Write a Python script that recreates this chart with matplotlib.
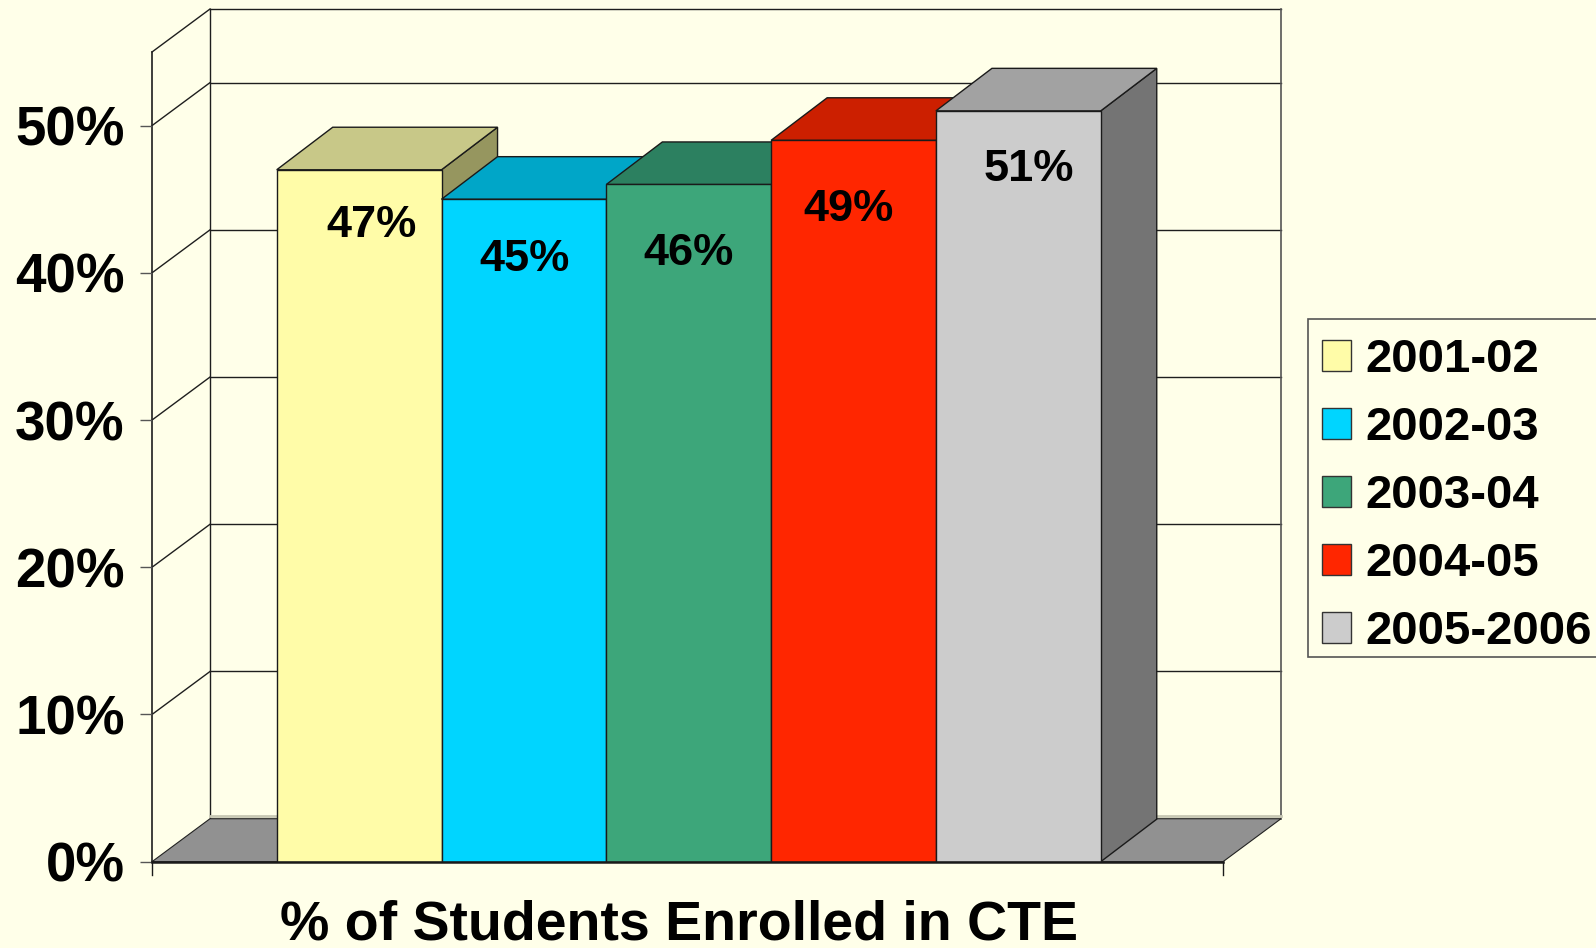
import matplotlib
matplotlib.use("Agg")
import matplotlib.pyplot as plt
from matplotlib.patches import Polygon, Patch, Rectangle

# ---- data ----
series = ["2001-02", "2002-03", "2003-04", "2004-05", "2005-2006"]
values = [47, 45, 46, 49, 51]
value_labels = ["47%", "45%", "46%", "49%", "51%"]
yticks = [0, 10, 20, 30, 40, 50]
ytick_labels = ["0%", "10%", "20%", "30%", "40%", "50%"]
xlabel = "% of Students Enrolled in CTE"

# ---- style ----
BG = "#FFFFE9"
front_cols = ["#FFFCA8", "#00D5FF", "#3DA67A", "#FF2600", "#CCCCCC"]
top_cols = ["#C8C888", "#00A6C8", "#2C8060", "#CC1F00", "#A2A2A2"]
side_cols = ["#96965F", "#0080A0", "#1F5E46", "#991700", "#747474"]
# label placement offsets in pixels (horizontal shift, distance below bar top)
label_dx_px = [12, 1, 0, -5, 10]
label_dy_px = [56, 60, 69, 69, 59]
FONT = "Liberation Sans"

W, H = 1596, 948
fig = plt.figure(figsize=(W / 100, H / 100), dpi=100, facecolor=BG)
ax = fig.add_axes([152 / W, 1 - 861.7 / H, 1071 / W, (861.7 - 52) / H])
ax.set_facecolor("none")

XL, XR = -1.2567, 5.242
YMAX = 55
ax.set_xlim(XL, XR)
ax.set_ylim(0, YMAX)
for s in ax.spines.values():
    s.set_visible(False)

# depth offsets (data units)
DX, DY = 0.352, 2.92      # walls / floor
BDX, BDY = 0.34, 2.89     # bars

LC = "#1e1e1e"
# back wall outline and gridlines
levels = yticks[1:] + [YMAX]
for v in levels:
    ax.plot([XL + DX, XR + DX], [v + DY, v + DY], color=LC, lw=1, zorder=1, clip_on=False)
ax.plot([XL + DX, XL + DX], [DY, YMAX + DY], color=LC, lw=1, zorder=1, clip_on=False)
ax.plot([XR + DX, XR + DX], [DY, YMAX + DY], color="#555555", lw=1.2, zorder=1, clip_on=False)
# left side wall
for v in levels:
    ax.plot([XL, XL + DX], [v, v + DY], color=LC, lw=1, zorder=1, clip_on=False)
ax.plot([XL, XL], [0, YMAX], color=LC, lw=1.2, zorder=1, clip_on=False)

# floor
floor = Polygon([(XL, 0), (XR, 0), (XR + DX, DY), (XL + DX, DY)], closed=True,
                facecolor="#919191", edgecolor="#222222", lw=0.8, zorder=2, clip_on=False)
ax.add_patch(floor)
ax.plot([XL + DX, XR + DX], [DY + 0.18, DY + 0.18], color="#C8C8B4", lw=2, zorder=2, clip_on=False)

# bars
z = 3
for i, (v, fc, tc, sc) in enumerate(zip(values, front_cols, top_cols, side_cols)):
    x0, x1 = i - 0.5, i + 0.5
    side = Polygon([(x1, 0), (x1, v), (x1 + BDX, v + BDY), (x1 + BDX, BDY)], closed=True,
                   facecolor=sc, edgecolor="#1a1a1a", lw=1, zorder=z, clip_on=False)
    ax.add_patch(side)
    top = Polygon([(x0, v), (x1, v), (x1 + BDX, v + BDY), (x0 + BDX, v + BDY)], closed=True,
                  facecolor=tc, edgecolor="#1a1a1a", lw=1, zorder=z + 0.1, clip_on=False)
    ax.add_patch(top)
    ax.bar([i], [v], width=1.0, color=fc, edgecolor="#1a1a1a", lw=1, zorder=z + 0.2)
    ax.annotate(value_labels[i], xy=(i, v),
                xytext=(label_dx_px[i] * 0.72, -label_dy_px[i] * 0.72),
                textcoords="offset points", ha="center", va="center",
                fontsize=32.5, fontweight="bold", family=FONT, color="black",
                zorder=z + 0.3)
    z += 1

# baseline and bottom ticks
ax.plot([XL, XR], [0, 0], color="#1a1a1a", lw=1.8, zorder=20, clip_on=False)
for xx in (XL, XR):
    ax.plot([xx, xx], [0, -0.9], color="#1a1a1a", lw=1, zorder=20, clip_on=False)

# y ticks
ax.set_yticks(yticks)
ax.set_yticklabels(ytick_labels, fontsize=39.4, fontweight="bold", family=FONT)
ax.tick_params(axis="y", direction="out", length=8.6, width=1, color="#555555", pad=11)
ax.set_xticks([])

fig.text(679 / W, 1 - 925 / H, xlabel, ha="center", va="center",
         fontsize=40, fontweight="bold", family=FONT)

# legend frame
fig.patches.append(Rectangle((1308 / W, 1 - 657.3 / H), (1600 - 1308) / W, (657.3 - 319) / H,
                             transform=fig.transFigure, facecolor=BG, edgecolor="#555555",
                             lw=1.2, zorder=0))
handles = [Patch(facecolor=c, edgecolor="#333333", lw=1) for c in front_cols]
leg = fig.legend(handles, series, loc="upper left",
                 bbox_to_anchor=(1308 / W, 1 - 323.7 / H), bbox_transform=fig.transFigure,
                 prop={"family": FONT, "weight": "bold", "size": 34},
                 frameon=False, borderaxespad=0, borderpad=0.3,
                 handlelength=0.62, handleheight=0.62, handletextpad=0.3,
                 labelspacing=0.51)

fig.savefig("out.png", dpi=100, facecolor=BG)
